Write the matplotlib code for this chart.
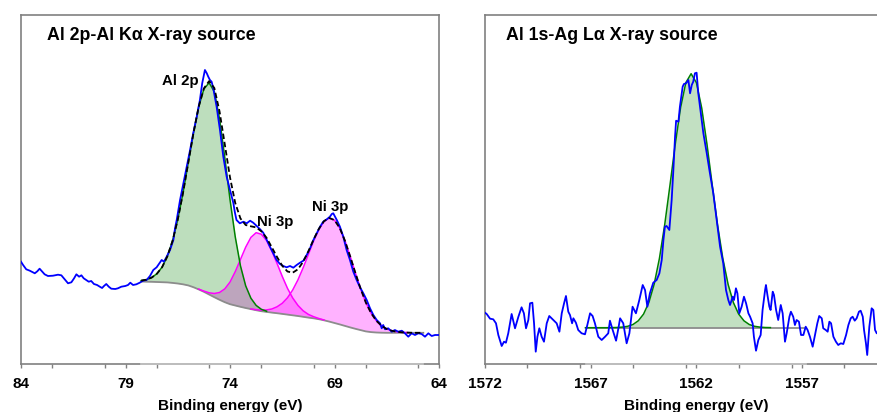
import numpy as np
import matplotlib
matplotlib.use("Agg")
import matplotlib.pyplot as plt
from matplotlib.ticker import MultipleLocator

plt.rcParams['font.family'] = ['Liberation Sans', 'DejaVu Sans']
plt.rcParams['font.weight'] = 'bold'

# ---------------- Al 2p region, Al Kα excitation ----------------
al_be = [84.00, 83.90, 83.75, 83.58, 83.34, 83.22, 83.11, 83.00, 82.87, 82.71,
         82.47, 82.23, 82.07, 81.91, 81.75, 81.59, 81.46, 81.35, 81.22, 81.11,
         81.00, 80.88, 80.76, 80.64, 80.51, 80.36, 80.23, 80.12, 80.03, 79.92,
         79.80, 79.68, 79.49, 79.36, 79.20, 79.01, 78.88, 78.77, 78.64, 78.48,
         78.32, 78.16, 77.99, 77.83, 77.67, 77.51, 77.38, 77.27, 77.16, 77.03,
         76.87, 76.71, 76.63, 76.55, 76.39, 76.23, 76.07, 75.91, 75.76, 75.59,
         75.44, 75.33, 75.20, 75.11, 75.04, 74.96, 74.88, 74.80, 74.64, 74.48,
         74.32, 74.16, 74.00, 73.84, 73.77, 73.69, 73.53, 73.36, 73.20, 73.04,
         72.89, 72.72, 72.56, 72.41, 72.24, 72.09, 71.93, 71.77, 71.61, 71.45,
         71.29, 71.13, 70.97, 70.81, 70.65, 70.49, 70.33, 70.17, 70.01, 69.85,
         69.69, 69.54, 69.37, 69.22, 69.13, 69.06, 68.89, 68.74, 68.58, 68.42,
         68.26, 68.10, 67.94, 67.78, 67.62, 67.46, 67.30, 67.14, 66.98, 66.82,
         66.74, 66.67, 66.58, 66.43, 66.26, 66.11, 65.95, 65.78, 65.63, 65.47,
         65.31, 65.15, 64.99, 64.83, 64.67, 64.51, 64.35, 64.19, 64.00]
al_counts = [102.3, 99.0, 94.7, 93.3, 90.7, 92.7, 95.3, 92.7, 89.7, 88.0,
             88.3, 89.3, 88.7, 84.7, 80.7, 81.7, 85.7, 89.7, 87.3, 88.7,
             85.7, 84.0, 82.3, 83.0, 80.0, 79.0, 77.3, 76.0, 78.0, 80.0,
             77.3, 75.3, 75.0, 75.7, 77.3, 78.0, 79.0, 81.3, 79.0, 79.7,
             81.3, 83.3, 84.0, 88.0, 94.0, 96.7, 100.7, 104.0, 102.3, 107.3,
             114.0, 124.0, 135.7, 144.0, 164.0, 180.7, 197.3, 214.0, 230.7, 247.3,
             264.0, 280.7, 294.0, 290.7, 287.3, 284.0, 282.3, 275.7, 257.3, 234.0,
             207.3, 187.3, 174.0, 161.0, 152.0, 144.0, 140.7, 142.3, 140.7, 143.3,
             141.3, 138.0, 134.7, 131.3, 124.0, 117.3, 110.7, 104.0, 100.0, 98.0,
             96.7, 98.0, 96.3, 99.0, 101.3, 103.3, 109.0, 115.7, 124.0, 130.7,
             137.3, 142.3, 144.7, 147.3, 150.0, 150.7, 144.0, 137.3, 127.3, 114.0,
             104.0, 92.3, 84.0, 76.7, 70.7, 64.0, 55.7, 49.0, 44.0, 40.7,
             35.7, 39.0, 34.7, 35.7, 32.3, 34.0, 32.3, 33.3, 30.7, 27.3,
             30.7, 29.0, 30.7, 30.0, 27.3, 30.7, 28.0, 29.0, 29.0]

# Peak-fit components on a common binding-energy grid (heights above background)
fit_be = [78.25, 78.00, 77.75, 77.50, 77.25, 77.00, 76.75, 76.50, 76.25, 76.00,
          75.75, 75.50, 75.25, 75.00, 74.75, 74.50, 74.25, 74.00, 73.75, 73.50,
          73.25, 73.00, 72.75, 72.50, 72.25, 72.00, 71.75, 71.50, 71.25, 71.00,
          70.75, 70.50, 70.25, 70.00, 69.75, 69.50, 69.25, 69.00, 68.75, 68.50,
          68.25, 68.00, 67.75, 67.50, 67.25, 67.00, 66.75, 66.50, 66.25, 66.00,
          65.75, 65.50, 65.25, 65.00, 64.75]
fit_background = [82.5, 82.3, 82.2, 82.0, 81.8, 81.6, 81.1, 80.5, 79.7, 78.6,
                  76.8, 74.6, 72.2, 69.5, 66.8, 64.2, 61.8, 59.8, 58.5, 57.2,
                  56.0, 54.9, 53.8, 52.8, 52.1, 51.4, 50.8, 50.1, 49.4, 48.7,
                  48.0, 47.2, 46.4, 45.7, 44.8, 43.7, 42.4, 41.0, 39.6, 38.1,
                  36.6, 35.2, 33.9, 32.6, 31.9, 31.5, 31.3, 31.2, 31.2, 31.2,
                  31.2, 31.2, 31.2, 31.2, 31.2]
fit_al2p = [0.9, 2.0, 4.2, 8.2, 15.0, 25.9, 42.0, 63.8, 91.1, 122.2,
            153.9, 182.3, 202.7, 211.7, 205.5, 181.0, 144.6, 104.7, 68.8, 41.0,
            22.2, 10.9, 4.8, 1.9, 0.7, 0, 0, 0, 0, 0,
            0, 0, 0, 0, 0, 0, 0, 0, 0, 0,
            0, 0, 0, 0, 0, 0, 0, 0, 0, 0,
            0, 0, 0, 0, 0]
fit_ni3p_a = [0, 0, 0, 0, 0, 0, 0, 0, 0, 0,
              0, 0.3, 0.7, 1.7, 3.7, 7.3, 13.3, 22.1, 33.8, 47.3,
              60.8, 71.7, 77.5, 77.0, 71.4, 61.7, 49.8, 37.5, 26.3, 17.3,
              10.6, 6.0, 3.2, 1.6, 0.7, 0.3, 0, 0, 0, 0,
              0, 0, 0, 0, 0, 0, 0, 0, 0, 0,
              0, 0, 0, 0, 0]
fit_ni3p_b = [0, 0, 0, 0, 0, 0, 0, 0, 0, 0,
              0, 0, 0, 0, 0, 0, 0, 0, 0, 0,
              0, 0.2, 0.5, 1.0, 2.0, 3.6, 6.4, 10.6, 16.8, 25.3,
              36.1, 49.0, 63.1, 77.2, 89.6, 98.9, 103.6, 102.9, 96.4, 85.2,
              71.0, 55.8, 41.3, 28.8, 19.0, 11.8, 6.9, 3.8, 2.0, 1.0,
              0.4, 0.2, 0, 0, 0]

# ---------------- Al 1s region, Ag Lα excitation ----------------
ag_be = [1572.00, 1571.92, 1571.76, 1571.61, 1571.48, 1571.37, 1571.21, 1571.10, 1571.01, 1570.90,
         1570.74, 1570.58, 1570.42, 1570.27, 1570.16, 1570.06, 1569.95, 1569.87, 1569.76, 1569.68,
         1569.60, 1569.52, 1569.43, 1569.32, 1569.21, 1569.08, 1568.96, 1568.77, 1568.61, 1568.48,
         1568.37, 1568.26, 1568.17, 1568.06, 1567.98, 1567.88, 1567.82, 1567.70, 1567.59, 1567.43,
         1567.27, 1567.16, 1567.03, 1566.91, 1566.80, 1566.64, 1566.48, 1566.32, 1566.17, 1566.09,
         1565.96, 1565.80, 1565.69, 1565.61, 1565.46, 1565.30, 1565.17, 1565.02, 1564.86, 1564.70,
         1564.54, 1564.43, 1564.32, 1564.20, 1564.04, 1563.88, 1563.75, 1563.64, 1563.56, 1563.49,
         1563.41, 1563.28, 1563.17, 1563.09, 1563.01, 1562.96, 1562.85, 1562.78, 1562.65, 1562.59,
         1562.49, 1562.38, 1562.30, 1562.22, 1562.15, 1562.07, 1561.99, 1561.91, 1561.83, 1561.67,
         1561.51, 1561.36, 1561.20, 1561.04, 1560.88, 1560.73, 1560.60, 1560.49, 1560.41, 1560.28,
         1560.22, 1560.13, 1560.06, 1559.97, 1559.86, 1559.75, 1559.65, 1559.54, 1559.46, 1559.34,
         1559.28, 1559.18, 1559.07, 1558.96, 1558.87, 1558.75, 1558.71, 1558.64, 1558.55, 1558.49,
         1558.39, 1558.33, 1558.23, 1558.13, 1558.01, 1557.92, 1557.81, 1557.73, 1557.60, 1557.53,
         1557.42, 1557.34, 1557.26, 1557.15, 1557.05, 1556.94, 1556.83, 1556.74, 1556.63, 1556.50,
         1556.39, 1556.28, 1556.19, 1556.07, 1556.00, 1555.88, 1555.79, 1555.71, 1555.63, 1555.52,
         1555.40, 1555.29, 1555.17, 1555.05, 1554.92, 1554.81, 1554.70, 1554.61, 1554.51, 1554.42,
         1554.31, 1554.23, 1554.13, 1554.07, 1553.98, 1553.92, 1553.82, 1553.71, 1553.63, 1553.55,
         1553.47, 1553.41]
ag_counts = [51.3, 50.0, 45.3, 44.7, 40.7, 29.0, 18.0, 22.3, 21.3, 30.7,
             50.0, 35.7, 47.3, 56.7, 50.7, 35.7, 44.0, 60.7, 61.3, 40.7,
             12.3, 27.3, 35.7, 27.3, 22.3, 40.7, 48.0, 44.0, 40.7, 32.3,
             50.7, 60.7, 68.0, 52.3, 49.0, 40.7, 45.7, 41.3, 34.0, 30.7,
             29.7, 39.0, 50.7, 48.0, 40.7, 27.3, 24.0, 27.3, 30.7, 43.3,
             34.0, 23.3, 35.7, 45.7, 40.7, 20.7, 30.7, 57.3, 50.7, 64.0,
             79.0, 74.0, 57.3, 70.7, 81.3, 84.0, 90.7, 104.0, 124.0, 137.3,
             138.0, 134.0, 164.0, 194.0, 227.3, 243.3, 242.3, 257.3, 277.3, 280.0,
             280.7, 284.0, 270.7, 279.0, 282.3, 290.7, 291.3, 270.7, 257.3, 230.7,
             210.7, 190.7, 170.7, 144.0, 117.3, 100.7, 74.0, 64.0, 59.0, 67.3,
             64.0, 75.7, 70.7, 50.7, 57.3, 67.3, 60.7, 50.7, 47.3, 40.7,
             27.3, 13.3, 24.0, 29.0, 54.0, 74.0, 79.0, 69.0, 57.3, 54.0,
             72.3, 69.0, 54.0, 44.0, 59.0, 50.7, 22.3, 30.7, 47.3, 52.3,
             47.3, 39.0, 44.0, 42.3, 29.0, 29.0, 37.3, 34.0, 27.3, 17.3,
             29.0, 40.7, 48.0, 45.7, 35.7, 34.0, 32.3, 42.3, 40.7, 27.3,
             22.3, 19.0, 20.7, 20.0, 29.0, 39.0, 45.7, 47.3, 43.3, 45.7,
             52.3, 53.3, 47.3, 34.0, 20.7, 9.0, 37.3, 55.7, 54.0, 34.0,
             30.7, 32.3]

ag_fit_be = [1567.25, 1567.00, 1566.75, 1566.50, 1566.25, 1566.00, 1565.75, 1565.50, 1565.25,
             1565.00, 1564.75, 1564.50, 1564.25, 1564.00, 1563.75, 1563.50, 1563.25, 1563.00,
             1562.75, 1562.50, 1562.25, 1562.00, 1561.75, 1561.50, 1561.25, 1561.00, 1560.75,
             1560.50, 1560.25, 1560.00, 1559.75, 1559.50, 1559.25, 1559.00, 1558.75, 1558.50]
ag_fit_al1s = [0.0, 0.0, 0.0, 0.0, 0.0, 0.1, 0.2, 0.6, 1.4,
               3.2, 6.9, 13.6, 25.1, 43.3, 69.2, 102.9, 142.5, 183.5,
               219.8, 245.0, 254.0, 245.0, 219.8, 183.5, 142.5, 102.9, 69.2,
               43.3, 25.1, 13.6, 6.9, 3.2, 1.4, 0.6, 0.2, 0.1]
ag_baseline_level = 36.3
ag_baseline_range = [1567.2, 1556.8]

left_xticks = [84, 79, 74, 69, 64]
right_xticks = [1572, 1567, 1562, 1557]

# ---------------- styling ----------------
BLUE = '#0000ff'
GREEN = '#008000'
MAGENTA = '#ff00ff'
BG_GRAY = '#8c8c8c'
FRAME = '#808080'
SPINE_LIGHT = '#c6c6c6'
FRAME_LW = 1.2

W, H = 878, 412
fig = plt.figure(figsize=(W / 100, H / 100), dpi=100)
ax_l = fig.add_axes([21 / W, 48 / H, 418 / W, 349 / H])
ax_r = fig.add_axes([485 / W, 48 / H, 422.8 / W, 349 / H])


def style_axes(ax, xlim, ticks):
    ax.set_xlim(*xlim)
    ax.set_ylim(0, 349)
    ax.set_yticks([])
    ax.set_xticks(ticks)
    ax.xaxis.set_minor_locator(MultipleLocator(2.5))
    ax.tick_params(axis='x', which='both', direction='out', length=3.2,
                   width=1.0, color=FRAME, labelsize=11, pad=6.5)
    for sp in ax.spines.values():
        sp.set_color(FRAME)
        sp.set_linewidth(FRAME_LW)
    ax.set_xlabel('Binding energy (eV)', fontsize=11, fontweight='bold')
    ax.xaxis.set_label_coords(0.5, -0.100)


def mask_zero(comp, base):
    comp = np.asarray(comp, dtype=float)
    return np.ma.masked_where(comp <= 0, base + comp)


# ---- left panel ----
E = np.asarray(fit_be)
bg = np.asarray(fit_background)
al2p = np.asarray(fit_al2p, dtype=float)
ni_a = np.asarray(fit_ni3p_a, dtype=float)
ni_b = np.asarray(fit_ni3p_b, dtype=float)

# magenta fills first, the green Al 2p fill on top of them
ax_l.fill_between(E, bg, bg + ni_a, color=MAGENTA, alpha=0.30, lw=0, zorder=1)
ax_l.fill_between(E, bg, bg + ni_b, color=MAGENTA, alpha=0.30, lw=0, zorder=1)
ax_l.fill_between(E, bg, bg + al2p, color=GREEN, alpha=0.26, lw=0, zorder=1)

ax_l.plot(E, bg, color=BG_GRAY, lw=1.3, zorder=2)
ax_l.plot(E, mask_zero(ni_a, bg), color=MAGENTA, lw=1.1, zorder=3)
ax_l.plot(E, mask_zero(ni_b, bg), color=MAGENTA, lw=1.1, zorder=3)
ax_l.plot(E, mask_zero(al2p, bg), color=GREEN, lw=1.1, zorder=3)
ax_l.plot(al_be, al_counts, color=BLUE, lw=1.3, zorder=4)
envelope = bg + al2p + ni_a + ni_b
ax_l.plot(E, envelope, color='black', lw=1.3, ls=(0, (3.0, 1.6)), zorder=5)

style_axes(ax_l, (84, 64), left_xticks)
ax_l.plot([fit_be[0], fit_be[-1]], [0, 0], transform=ax_l.get_xaxis_transform(),
          color=SPINE_LIGHT, lw=FRAME_LW, clip_on=False, zorder=3)

ax_l.text(0.062, 0.928, 'Al 2p-Al K\u03b1 X-ray source', transform=ax_l.transAxes,
          fontsize=12.8, fontweight='bold', va='baseline', ha='left')
ax_l.text(76.37, 279, 'Al 2p', fontsize=10.8, fontweight='bold', ha='center', va='baseline', zorder=6)
ax_l.text(71.85, 138, 'Ni 3p', fontsize=10.8, fontweight='bold', ha='center', va='baseline', zorder=6)
ax_l.text(69.22, 153, 'Ni 3p', fontsize=10.8, fontweight='bold', ha='center', va='baseline', zorder=6)

# ---- right panel ----
Er = np.asarray(ag_fit_be)
peak = np.asarray(ag_fit_al1s)
ax_r.fill_between(Er, ag_baseline_level, ag_baseline_level + peak,
                  color=GREEN, alpha=0.24, lw=0, zorder=1)
ax_r.plot(ag_baseline_range, [ag_baseline_level, ag_baseline_level],
          color=BG_GRAY, lw=1.3, zorder=2)
ax_r.plot(Er, ag_baseline_level + peak, color=GREEN, lw=1.1, zorder=3)
ax_r.plot(ag_be, ag_counts, color=BLUE, lw=1.3, zorder=4)

style_axes(ax_r, (1572, 1552), right_xticks)
ax_r.plot(ag_baseline_range, [0, 0], transform=ax_r.get_xaxis_transform(),
          color=SPINE_LIGHT, lw=FRAME_LW, clip_on=False, zorder=3)

ax_r.text(0.050, 0.928, 'Al 1s-Ag L\u03b1 X-ray source', transform=ax_r.transAxes,
          fontsize=12.8, fontweight='bold', va='baseline', ha='left')

fig.savefig('out.png', dpi=100)
